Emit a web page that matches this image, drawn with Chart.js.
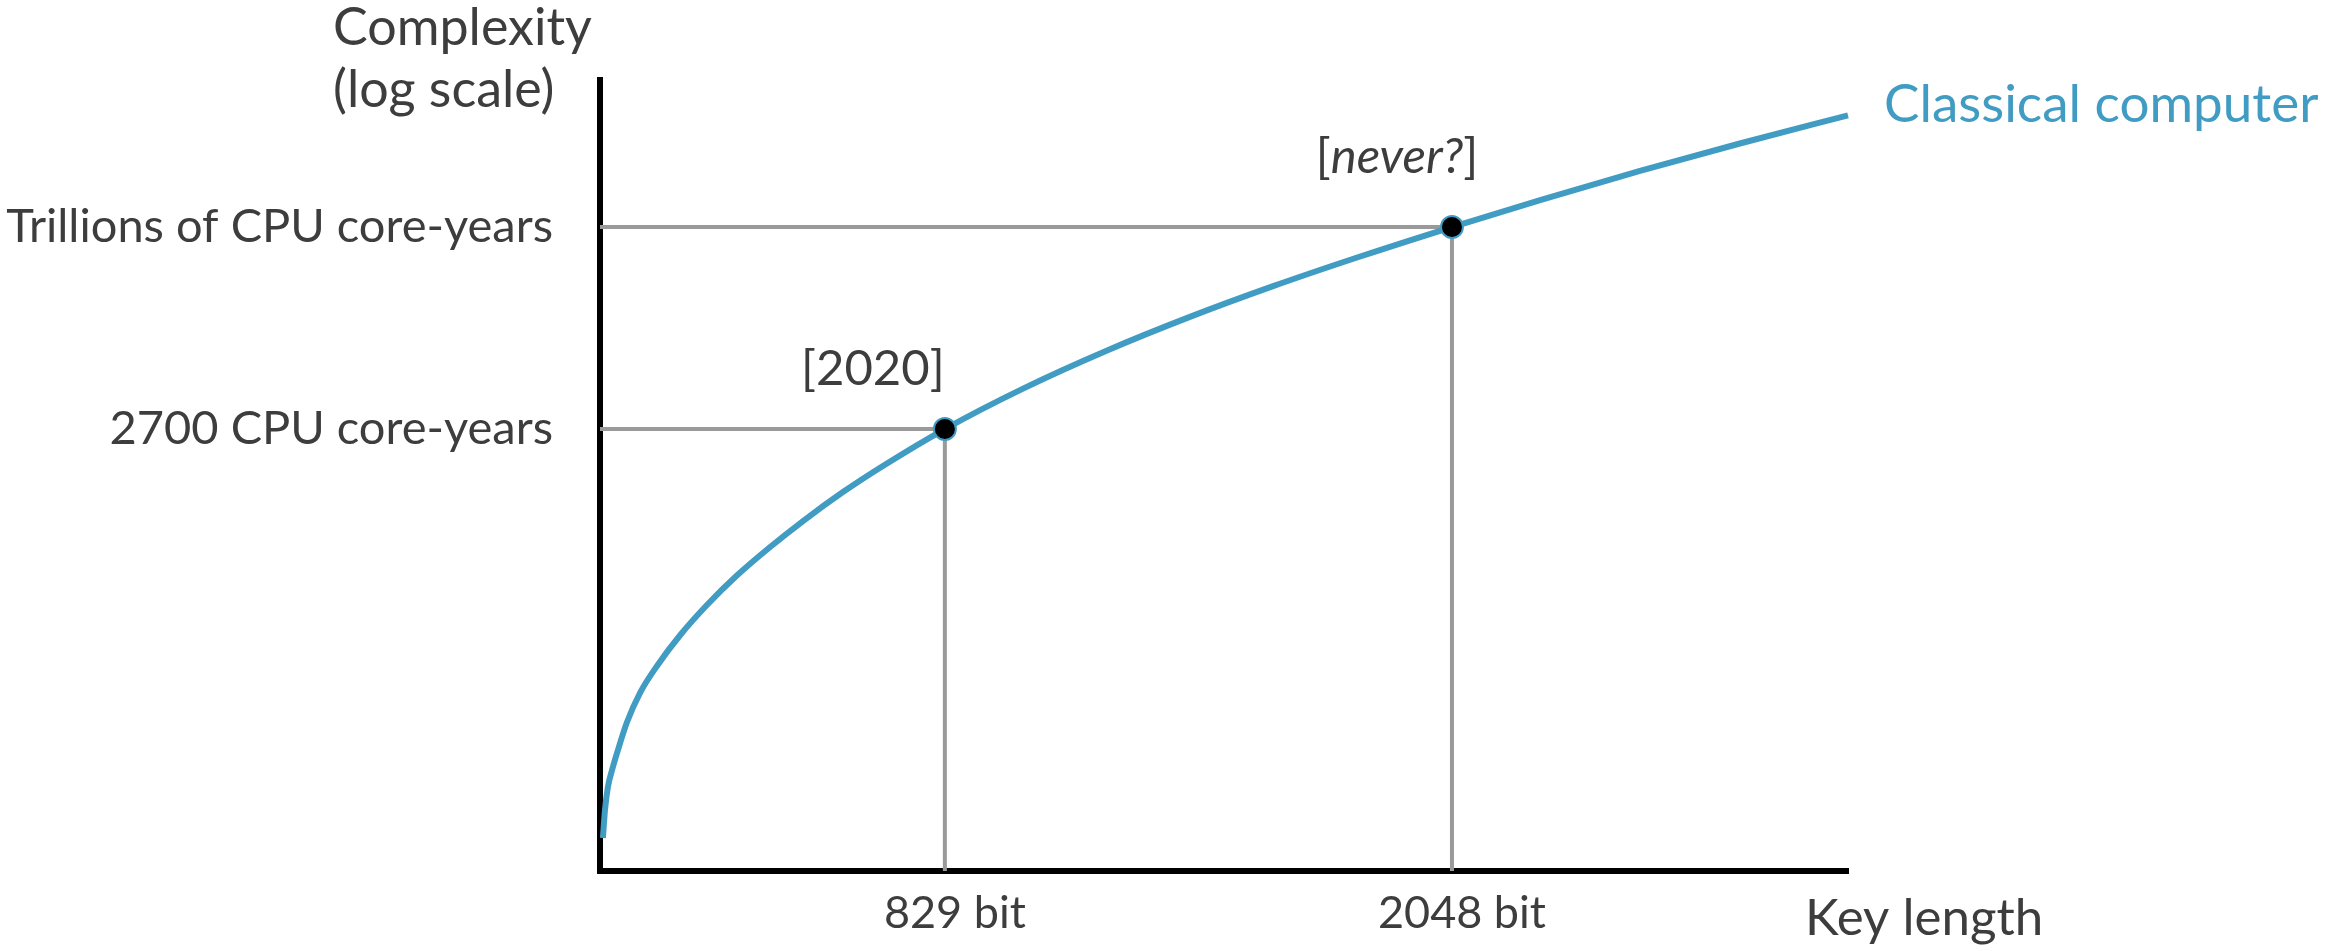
<!DOCTYPE html>
<html>
<head>
<meta charset="utf-8">
<script src="https://cdn.jsdelivr.net/npm/chart.js@4/dist/chart.umd.min.js"></script>
<style>
  html, body { margin: 0; padding: 0; background: #ffffff; }
  #wrap { width: 2331px; height: 951px; }
</style>
</head>
<body>
<div id="wrap"><canvas id="chart" width="2331" height="951"></canvas></div>
<script>
// Factoring effort on a classical computer versus RSA key length.
const keyBits = [7, 12, 19, 29, 41, 65, 96, 137, 192, 257, 329, 409, 488, 584, 680, 829,
                 1017, 1219, 1418, 1618, 1820, 2048, 2260, 2500, 2740, 3000];
const coreYears = [1.2e-14, 1.85e-13, 1.75e-12, 9.2e-12, 4.9e-11, 1.0e-9, 1.7e-8, 2.4e-7, 4.7e-6,
                   9.2e-5, 1.64e-3, 0.0266, 0.337, 5.7, 73, 2700,
                   1.4e5, 5.8e6, 1.54e8, 3.1e9, 5.1e10, 1e12, 1.4e13, 2.4e14, 3.5e15, 5.5e16];

// Marked milestones
const milestoneBits = [829, 2048];
const milestoneYears = [2700, 1e12];
const milestoneNotes = ['[2020]', '[never?]'];

// Axis ticks
const xTickValues = [829, 2048];
const xTickLabels = ['829 bit', '2048 bit'];
const yTickValues = [2700, 1e12];
const yTickLabels = ['2700 CPU core-years', 'Trillions of CPU core-years'];

const seriesName = 'Classical computer';
const xAxisTitle = 'Key length';
const yAxisTitle = ['Complexity', '(log scale)'];

const X_MIN = 0, X_MAX = 3000;
const Y_MIN = 4.8e-16, Y_MAX = 1.73e18;

const BLUE = '#419cc3';
const GREY = '#9a9a9a';
const INK = '#3d3d3d';
const FONT = 'Lato, "Open Sans", sans-serif';

const curve = keyBits.map((b, i) => ({ x: b, y: coreYears[i] }));
const points = milestoneBits.map((b, i) => ({ x: b, y: milestoneYears[i] }));

// Grey guide from the y axis to each milestone and down to the x axis
const guides = milestoneBits.map((b, i) => ({
  type: 'line',
  data: [{ x: X_MIN, y: milestoneYears[i] }, { x: b, y: milestoneYears[i] }, { x: b, y: Y_MIN }],
  borderColor: GREY,
  borderWidth: 4,
  pointRadius: 0,
  tension: 0,
  order: 3
}));

const annotationPlugin = {
  id: 'annotations',
  afterDatasetsDraw(chart) {
    const { ctx, scales: { x, y } } = chart;
    ctx.save();

    // Milestone notes above the points
    const noteOffsets = [{ dx: -72, dy: -44 }, { dx: -55, dy: -54 }];
    milestoneNotes.forEach((note, i) => {
      const px = x.getPixelForValue(milestoneBits[i]);
      const py = y.getPixelForValue(milestoneYears[i]);
      const cx = px + noteOffsets[i].dx;
      const by = py + noteOffsets[i].dy;
      const m = note.match(/^(\[)(.*?)(\])$/);
      const parts = m && /[a-z]/.test(m[2])
        ? [[m[1], 'normal'], [m[2], 'italic'], [m[3], 'normal']]
        : [[note, 'normal']];
      const size = 49;
      let total = 0;
      parts.forEach(p => { ctx.font = `${p[1]} 400 ${size}px ${FONT}`; total += ctx.measureText(p[0]).width; });
      let cur = cx - total / 2;
      ctx.fillStyle = INK;
      ctx.textBaseline = 'alphabetic';
      ctx.textAlign = 'left';
      parts.forEach(p => {
        ctx.font = `${p[1]} 400 ${size}px ${FONT}`;
        ctx.fillText(p[0], cur, by);
        cur += ctx.measureText(p[0]).width;
      });
    });

    // Series name at the end of the curve
    const lx = x.getPixelForValue(keyBits[keyBits.length - 1]);
    const ly = y.getPixelForValue(coreYears[coreYears.length - 1]);
    ctx.font = `400 53px ${FONT}`;
    ctx.fillStyle = BLUE;
    ctx.textAlign = 'left';
    ctx.textBaseline = 'alphabetic';
    ctx.fillText(seriesName, lx + 36, ly + 7);

    // Axis titles
    ctx.fillStyle = INK;
    ctx.font = `400 51px ${FONT}`;
    ctx.fillText(xAxisTitle, x.right - 43, 935);
    ctx.font = `400 52px ${FONT}`;
    ctx.fillText(yAxisTitle[0], y.right - 267, 45);
    ctx.fillText(yAxisTitle[1], y.right - 267, 107);
    ctx.restore();
  }
};

new Chart(document.getElementById('chart'), {
  type: 'line',
  data: {
    datasets: [
      {
        data: points,
        showLine: false,
        pointRadius: 11,
        pointHoverRadius: 11,
        pointBackgroundColor: '#000000',
        pointBorderColor: BLUE,
        pointBorderWidth: 2,
        order: 1
      },
      {
        label: seriesName,
        data: curve,
        borderColor: BLUE,
        borderWidth: 6,
        pointRadius: 0,
        cubicInterpolationMode: 'monotone',
        borderCapStyle: 'butt',
        order: 2
      },
      ...guides
    ]
  },
  options: {
    responsive: false,
    animation: false,
    events: [],
    clip: false,
    layout: { padding: { left: 0, right: 483, top: 80, bottom: 0 } },
    plugins: { legend: { display: false }, tooltip: { enabled: false } },
    scales: {
      x: {
        type: 'linear',
        min: X_MIN,
        max: X_MAX,
        grid: { display: false, drawTicks: false },
        border: { display: true, color: '#000000', width: 6 },
        afterBuildTicks: (scale) => { scale.ticks = xTickValues.map(v => ({ value: v })); },
        afterFit: (scale) => { scale.height = 80; },
        ticks: {
          autoSkip: false,
          maxRotation: 0,
          padding: 15,
          labelOffset: 10,
          color: INK,
          font: { family: FONT, size: 45 },
          callback: (value, index) => xTickLabels[index]
        }
      },
      y: {
        type: 'logarithmic',
        min: Y_MIN,
        max: Y_MAX,
        grid: { display: false, drawTicks: false },
        border: { display: true, color: '#000000', width: 6 },
        afterBuildTicks: (scale) => { scale.ticks = yTickValues.map(v => ({ value: v })); },
        afterFit: (scale) => { scale.width = 600; },
        ticks: {
          autoSkip: false,
          padding: 47,
          color: INK,
          font: { family: FONT, size: 47 },
          callback: (value, index) => yTickLabels[index]
        }
      }
    }
  },
  plugins: [annotationPlugin]
});
</script>
</body>
</html>
